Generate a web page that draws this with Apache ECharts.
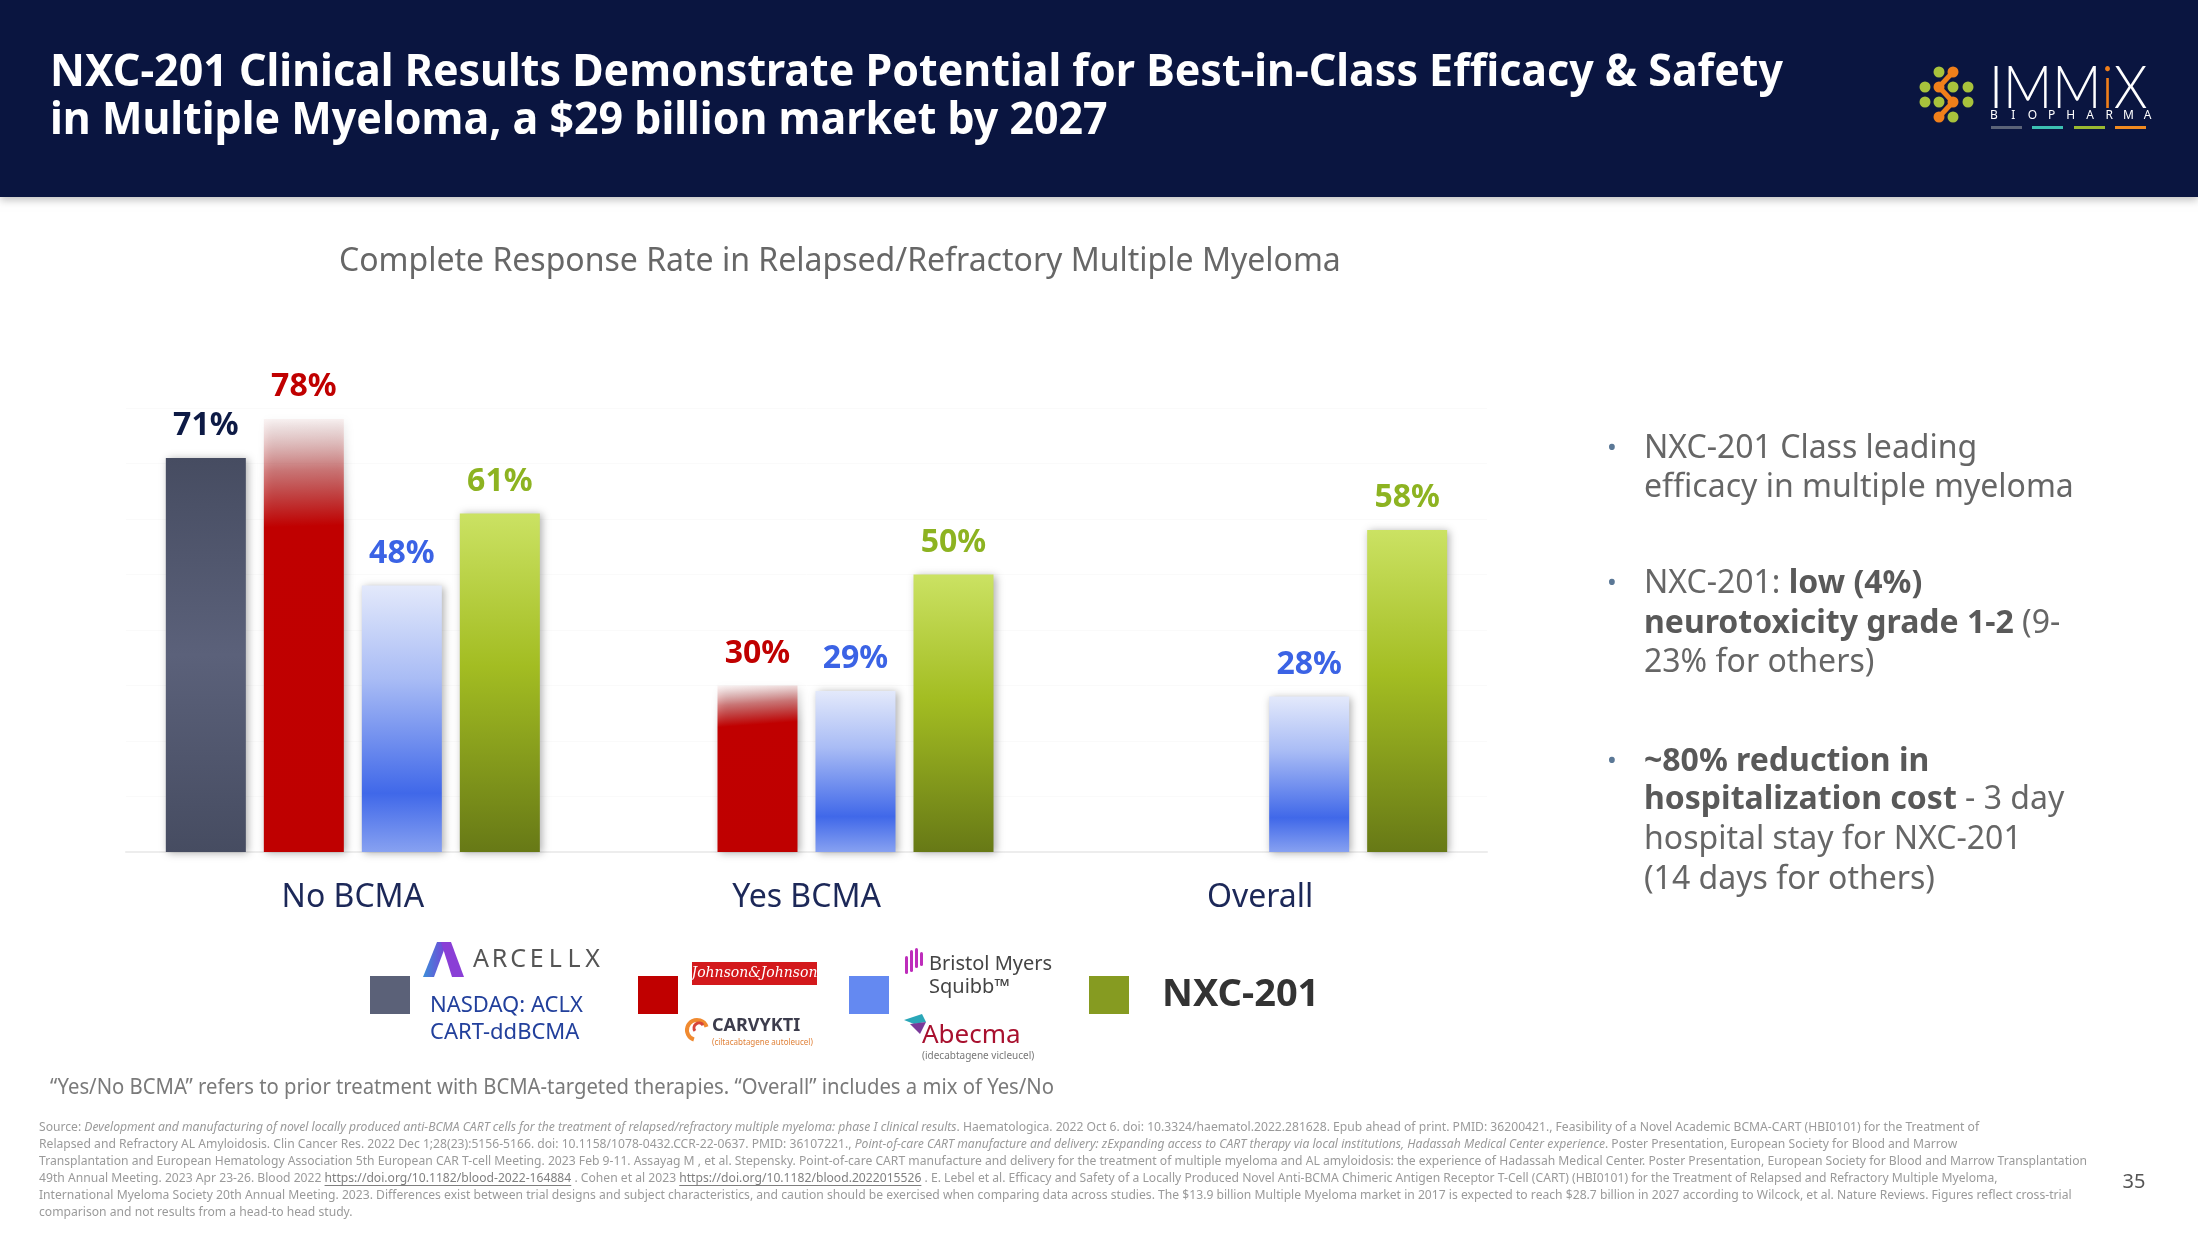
<!DOCTYPE html>
<html><head><meta charset="utf-8">
<script src="https://cdn.jsdelivr.net/npm/echarts@6/dist/echarts.min.js"></script>
<style>html,body{margin:0;padding:0;background:#fff}#chart{width:2198px;height:1236px}</style>
</head><body><div id="chart"></div>
<script>
// ---------- data ----------
const categories = ['No BCMA', 'Yes BCMA', 'Overall'];
const seriesNames = ['ARCELLX CART-ddBCMA', 'Johnson & Johnson CARVYKTI', 'Bristol Myers Squibb Abecma', 'NXC-201'];
const arcellxValues = [71, null, null];
const carvyktiValues = [78, 30, null];
const abecmaValues = [48, 29, 28];
const nxc201Values = [61, 50, 58];
const yMax = 80;
const yInterval = 10;
const legendTexts = ['', '', '', 'NXC-201'];

const chartTitle = 'Complete Response Rate in Relapsed/Refractory Multiple Myeloma';
const headline = ['NXC-201 Clinical Results Demonstrate Potential for Best-in-Class Efficacy & Safety',
                  'in Multiple Myeloma, a $29 billion market by 2027'];
const bullets = [
  ['NXC-201 Class leading', 'efficacy in multiple myeloma'],
  ['NXC-201: {b|low (4%)}', '{b|neurotoxicity grade 1-2} (9-', '23% for others)'],
  ['{b|~80% reduction in}', '{b|hospitalization cost} - 3 day', 'hospital stay for NXC-201', '(14 days for others)']
];
const footnote = '\u201CYes/No BCMA\u201D refers to prior treatment with BCMA-targeted therapies. \u201COverall\u201D includes a mix of Yes/No';
const sourceLines = [
  [['n', 'Source: '], ['i', 'Development and manufacturing of novel locally produced anti-BCMA CART cells for the treatment of relapsed/refractory multiple myeloma: phase I clinical results'], ['n', '. Haematologica. 2022 Oct 6. doi: 10.3324/haematol.2022.281628. Epub ahead of print. PMID: 36200421., Feasibility of a Novel Academic BCMA-CART (HBI0101) for the Treatment of']],
  [['n', 'Relapsed and Refractory AL Amyloidosis. Clin Cancer Res. 2022 Dec 1;28(23):5156-5166. doi: 10.1158/1078-0432.CCR-22-0637. PMID: 36107221., '], ['i', 'Point-of-care CART manufacture and delivery: zExpanding access to CART therapy via local institutions, Hadassah Medical Center experience'], ['n', '. Poster Presentation, European Society for Blood and Marrow']],
  [['n', 'Transplantation and European Hematology Association 5th European CAR T-cell Meeting. 2023 Feb 9-11. Assayag M , et al. Stepensky. Point-of-care CART manufacture and delivery for the treatment of multiple myeloma and AL amyloidosis: the experience of Hadassah Medical Center. Poster Presentation, European Society for Blood and Marrow Transplantation']],
  [['n', '49th Annual Meeting. 2023 Apr 23-26. Blood 2022 '], ['u', 'https://doi.org/10.1182/blood-2022-164884'], ['n', ' . Cohen et al 2023 '], ['u', 'https://doi.org/10.1182/blood.2022015526'], ['n', ' . E. Lebel et al. Efficacy and Safety of a Locally Produced Novel Anti-BCMA Chimeric Antigen Receptor T-Cell (CART) (HBI0101) for the Treatment of Relapsed and Refractory Multiple Myeloma,']],
  [['n', 'International Myeloma Society 20th Annual Meeting. 2023. Differences exist between trial designs and subject characteristics, and caution should be exercised when comparing data across studies. The $13.9 billion Multiple Myeloma market in 2017 is expected to reach $28.7 billion in 2027 according to Wilcock, et al. Nature Reviews. Figures reflect cross-trial']],
  [['n', 'comparison and not results from a head-to head study.']]
];
const pageNumber = '35';

// ---------- helpers ----------
const F = '"Noto Sans", "Open Sans", sans-serif';
const mctx = document.createElement('canvas').getContext('2d');
function tw(str, size, weight, style, family) {
  mctx.font = (style || 'normal') + ' ' + (weight || 'normal') + ' ' + size + 'px ' + (family || F);
  return mctx.measureText(str).width;
}
const lg = (stops, x2, y2) => ({type: 'linear', x: 0, y: 0, x2: x2 || 0, y2: y2 === undefined ? 1 : y2,
  colorStops: stops.map(s => ({offset: s[0], color: s[1]}))});

const barColors = [
  lg([[0, '#464c61'], [0.5, '#5b617a'], [1, '#464c61']]),
  lg([[0, 'rgba(215,150,150,0.10)'], [0.12, 'rgba(192,40,40,0.55)'], [0.25, '#c00000'], [1, '#bf0000']], 0.15, 1),
  lg([[0, '#e3e9fb'], [0.35, '#a9bcf5'], [0.78, '#4068e9'], [1, '#87a1f1']]),
  lg([[0, '#cbe263'], [0.45, '#a3bd22'], [1, '#677916']])
];
const labelColors = ['#0d1a45', '#c00000', '#3b63e5', '#8db321'];
const legendColors = ['#5b6178', '#c00000', '#6489f1', '#869b21'];
const legendLeft = [370, 638, 849, 1089];

// ---------- graphics ----------
const g = [];
// header band
g.push({type: 'rect', shape: {x: 0, y: 0, width: 2198, height: 197}, style: {fill: '#0a1540', shadowBlur: 8, shadowColor: 'rgba(0,0,0,0.25)', shadowOffsetY: 3}, z: 1});
// headline (fit to reference width)
const hlSize = 45;
const hlScale = 1733 / tw(headline[0], hlSize, 'bold');
headline.forEach((t, k) => g.push({type: 'text', x: 50, y: [73, 121][k], scaleX: hlScale, z: 2,
  style: {text: t, fontSize: hlSize, fontWeight: 'bold', fontFamily: F, fill: '#ffffff', verticalAlign: 'middle'}}));

// logo dots
const dots = [[1939, 72, 'g'], [1953, 72, 'o'], [1925, 87, 'g'], [1939, 87, 'o'], [1953, 87, 'g'], [1968, 87, 'g'],
  [1925, 102, 'g'], [1939, 102, 'g'], [1953, 102, 'o'], [1968, 102, 'g'], [1939, 117, 'o'], [1953, 117, 'g']];
g.push({type: 'polyline', z: 2, shape: {points: [[1953, 72], [1939, 87], [1953, 102], [1939, 117]]}, style: {stroke: '#f07f1a', lineWidth: 5}});
dots.forEach(d => g.push({type: 'circle', z: 3, shape: {cx: d[0], cy: d[1], r: 5.5}, style: {fill: d[2] === 'g' ? '#a8c23c' : '#f07f1a'}}));
const logoSize = 60;
const logoScale = 158 / tw('IMMiX', logoSize, 300, 'normal', 'Lato');
g.push({type: 'text', x: 1989, y: 89, z: 3, scaleX: logoScale, style: {text: '{w|IMM}{o|i}{w|X}', fontSize: logoSize, fontFamily: 'Lato', fontWeight: 300, verticalAlign: 'middle',
  rich: {w: {fill: '#ffffff', fontSize: logoSize, fontFamily: 'Lato', fontWeight: 300}, o: {fill: '#f07f1a', fontSize: logoSize, fontFamily: 'Lato', fontWeight: 300}}}});
'BIOPHARMA'.split('').forEach((c, k) => g.push({type: 'text', x: 1994 + k * 19.2, y: 116, z: 3,
  style: {text: c, fontSize: 12, fontFamily: F, fill: '#ffffff', align: 'center', verticalAlign: 'middle'}}));
[['#5b6378', 1991], ['#3cc0b2', 2032], ['#9ab831', 2074], ['#f08a20', 2115]].forEach(d =>
  g.push({type: 'rect', z: 3, shape: {x: d[1], y: 126, width: 31, height: 3}, style: {fill: d[0]}}));

// bullets
const bulletLineYs = [[449, 488], [584, 624, 663], [762, 800, 840, 880]];
bullets.forEach((lines, b) => {
  g.push({type: 'text', x: 1612, y: bulletLineYs[b][0], style: {text: '\u2022', fontSize: 26, fontFamily: F, fill: '#5b7896', align: 'center', verticalAlign: 'middle'}});
  lines.forEach((ln, k) => g.push({type: 'text', x: 1644, y: bulletLineYs[b][k],
    style: {text: ln, fontSize: 32, fontFamily: F, fill: '#666666', verticalAlign: 'middle',
      rich: {b: {fontWeight: 'bold', fill: '#595959', fontSize: 32, fontFamily: F}}}}));
});

// legend logos
// ARCELLX
g.push({type: 'polygon', shape: {points: [[423, 977], [437, 942], [447, 942], [434, 977]]},
  style: {fill: lg([[0, '#3b8fd8'], [1, '#7a3fd8']], 1, 0)}});
g.push({type: 'polygon', shape: {points: [[441, 942], [451, 942], [464, 977], [452, 977]]}, style: {fill: '#8a3fd6'}});
'ARCELLX'.split('').forEach((c, k) => g.push({type: 'text', x: 481 + k * 18.6, y: 960,
  style: {text: c, fontSize: 25, fontFamily: F, fill: '#555555', align: 'center', verticalAlign: 'middle'}}));
g.push({type: 'text', x: 430, y: 1006, style: {text: 'NASDAQ: ACLX', fontSize: 22, fontFamily: F, fill: '#22409c', verticalAlign: 'middle'}});
g.push({type: 'text', x: 430, y: 1033, style: {text: 'CART-ddBCMA', fontSize: 22, fontFamily: F, fill: '#22409c', verticalAlign: 'middle'}});
// Johnson & Johnson / CARVYKTI
g.push({type: 'rect', shape: {x: 692, y: 962, width: 125, height: 23}, style: {fill: '#d3191c'}});
g.push({type: 'text', x: 754.5, y: 973.5, style: {text: 'Johnson&Johnson', fontSize: 14, fontStyle: 'italic', fontFamily: '"DejaVu Serif", serif', fill: '#ffffff', align: 'center', verticalAlign: 'middle'}});
g.push({type: 'arc', shape: {cx: 697, cy: 1030, r: 10, startAngle: Math.PI * 0.6, endAngle: Math.PI * 1.9}, style: {stroke: '#f08a30', lineWidth: 4, fill: null}});
g.push({type: 'arc', shape: {cx: 699, cy: 1028, r: 5, startAngle: Math.PI * 0.8, endAngle: Math.PI * 1.8}, style: {stroke: '#d6453a', lineWidth: 3, fill: null}});
g.push({type: 'text', x: 712, y: 1026, style: {text: 'CARVYKTI', fontSize: 18, fontWeight: 'bold', fontFamily: F, fill: '#3c3c4c', verticalAlign: 'middle'}});
g.push({type: 'text', x: 712, y: 1043, style: {text: '(ciltacabtagene autoleucel)', fontSize: 8, fontFamily: F, fill: '#e0823a', verticalAlign: 'middle'}});
// BMS / Abecma
[[905, 956, 18], [910, 950, 22], [915, 948, 20], [920, 952, 14]].forEach(h =>
  g.push({type: 'rect', shape: {x: h[0], y: h[1], width: 3, height: h[2], r: 1.5}, style: {fill: '#be2dbb'}}));
g.push({type: 'text', x: 929, y: 964, style: {text: 'Bristol Myers', fontSize: 20, fontFamily: F, fill: '#444444', verticalAlign: 'middle'}});
g.push({type: 'text', x: 929, y: 987, style: {text: 'Squibb\u2122', fontSize: 20, fontFamily: F, fill: '#444444', verticalAlign: 'middle'}});
g.push({type: 'polygon', shape: {points: [[904, 1020], [922, 1014], [926, 1022], [914, 1024]]}, style: {fill: '#2aa7b8'}});
g.push({type: 'polygon', shape: {points: [[910, 1024], [926, 1022], [920, 1034]]}, style: {fill: '#7a3a9a'}});
g.push({type: 'text', x: 922, y: 1036, style: {text: 'Abecma', fontSize: 26, fontFamily: F, fill: '#a8102e', verticalAlign: 'middle'}});
g.push({type: 'text', x: 922, y: 1056, style: {text: '(idecabtagene vicleucel)', fontSize: 10, fontFamily: F, fill: '#777777', verticalAlign: 'middle'}});

// footnote
const fnSize = 22;
g.push({type: 'text', x: 50, y: 1088, scaleX: 1004 / tw(footnote, fnSize), style: {text: footnote, fontSize: fnSize, fontFamily: F, fill: '#7a7a7a', verticalAlign: 'middle'}});
// sources
const srcSize = 13;
const segW = s => tw(s[1], srcSize, 'normal', s[0] === 'i' ? 'italic' : 'normal');
const lineW = segs => segs.reduce((a, s) => a + segW(s), 0);
const srcScale = 2048 / lineW(sourceLines[2]);
sourceLines.forEach((segs, k) => {
  const y = 1127 + k * 17;
  g.push({type: 'text', x: 39, y: y, scaleX: srcScale, style: {
    text: segs.map(s => '{' + s[0] + '|' + s[1] + '}').join(''), fontSize: srcSize, fontFamily: F, fill: '#9a9a9a', verticalAlign: 'middle',
    rich: {n: {fontSize: srcSize, fontFamily: F, fill: '#9a9a9a'},
           i: {fontSize: srcSize, fontFamily: F, fill: '#9a9a9a', fontStyle: 'italic'},
           u: {fontSize: srcSize, fontFamily: F, fill: '#7f7f7f'}}}});
  let x = 39;
  segs.forEach(s => {
    const w = segW(s) * srcScale;
    if (s[0] === 'u') g.push({type: 'rect', shape: {x: x, y: y + 7, width: w, height: 1}, style: {fill: '#7f7f7f'}});
    x += w;
  });
});
g.push({type: 'text', x: 2134, y: 1182, style: {text: pageNumber, fontSize: 20, fontFamily: F, fill: '#555555', align: 'center', verticalAlign: 'middle'}});

// ---------- chart ----------
const seriesValues = [arcellxValues, carvyktiValues, abecmaValues, nxc201Values];
const option = {
  animation: false,
  backgroundColor: '#ffffff',
  title: {text: chartTitle, left: 334, top: 241, textStyle: {fontSize: 32, fontWeight: 'normal', color: '#676767', fontFamily: F}},
  grid: {left: 126, right: 711, top: 852 - yMax * 5.55, bottom: 384, containLabel: false},
  xAxis: {type: 'category', data: categories,
    axisLine: {lineStyle: {color: '#ededed', width: 2}}, axisTick: {show: false},
    axisLabel: {margin: 30, fontSize: 32, color: '#1c2858', fontFamily: F}},
  yAxis: {type: 'value', min: 0, max: yMax, interval: yInterval, axisLabel: {show: false},
    axisLine: {show: false}, axisTick: {show: false}, splitLine: {lineStyle: {color: '#fafafa'}}},
  legend: seriesNames.map((n, i) => ({
    data: [{name: n, itemStyle: {color: legendColors[i]}}], left: legendLeft[i], top: 976, icon: 'rect', padding: 0,
    itemWidth: 40, itemHeight: 38, selectedMode: false, formatter: () => legendTexts[i],
    textStyle: {fontSize: 38, fontWeight: 'bold', color: '#333333', fontFamily: F, lineHeight: 38, padding: [0, 0, 0, 28]}
  })),
  series: seriesValues.map((vals, i) => ({
    name: seriesNames[i], type: 'bar', data: vals, barWidth: 80, barGap: '22.5%',
    itemStyle: {color: barColors[i], shadowBlur: 8, shadowColor: 'rgba(0,0,0,0.32)', shadowOffsetX: 2, shadowOffsetY: 1},
    label: {show: true, position: 'top', distance: 16, formatter: '{c}%', color: labelColors[i], fontSize: 32, fontWeight: 'bold', fontFamily: F},
    emphasis: {disabled: true}
  })),
  graphic: g
};
const chart = echarts.init(document.getElementById('chart'));
chart.setOption(option);
</script>
</body></html>
